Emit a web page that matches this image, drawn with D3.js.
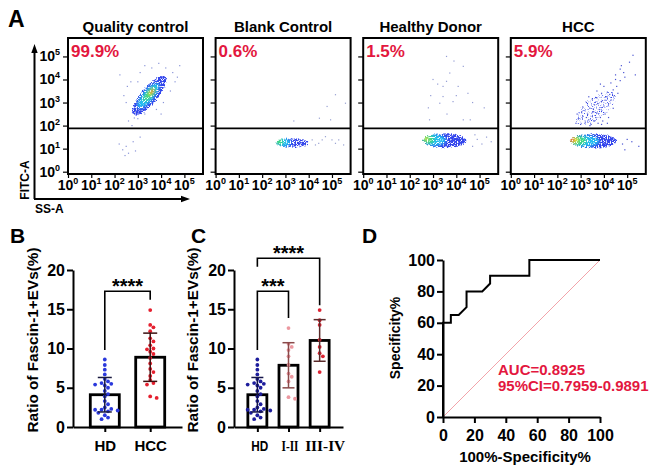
<!DOCTYPE html>
<html>
<head>
<meta charset="utf-8">
<script src="https://cdn.jsdelivr.net/npm/d3@7"></script>
<style>
body{margin:0;background:#fff;}
svg{display:block;font-family:Arial,"Liberation Sans",sans-serif;font-weight:bold;}
</style>
</head>
<body>
<svg id="fig" width="652" height="474"></svg>
<script>
'use strict';

// ---- panel A : flow cytometry ----
var flowTitles=['Quality control','Blank Control','Healthy Donor','HCC'];
var flowPercents=['99.9%','0.6%','1.5%','5.9%'];
var logTicks=[0,1,2,3,4,5];
var gateLog=1.88;
var levelColors=['#3345ec','#22bdf0','#40d984','#e6e33c','#ea522c'];

// density layers: [log SS-A, log FITC-A, half length, half width (decades), angle, level, opacity]
var qcDensity=[
    [3.5,3.3,1.12,0.4,-50,0,1],
    [3.45,3.3,0.68,0.25,-50,1,1],
    [3.5,3.36,0.38,0.15,-50,2,1],
    [3.58,3.45,0.18,0.09,-50,3,1],
    [3.62,3.48,0.08,0.05,-50,4,1]
];
var blankDensity=[
    [3.3,1.25,0.75,0.26,0,0,0.9],
    [2.9,1.27,0.33,0.19,0,1,1],
    [2.75,1.3,0.16,0.13,0,2,1]
];
var hdDensity=[
    [3.5,1.35,0.98,0.35,0,0,1],
    [3.05,1.37,0.5,0.26,0,1,1],
    [2.8,1.4,0.25,0.19,0,2,1],
    [2.72,1.42,0.1,0.08,0,3,1]
];
var hccDensity=[
    [3.65,2.75,1.1,0.55,-38,0,0.62],
    [3.55,1.33,1.05,0.35,0,0,1],
    [3.15,1.33,0.65,0.26,0,1,1],
    [2.88,1.35,0.38,0.2,0,2,1],
    [2.72,1.37,0.2,0.14,0,3,1],
    [2.62,1.38,0.1,0.09,0,4,1]
];

// sparse events: [log SS-A, log FITC-A]
var qcEvents=[[2.2,1.2],[2.35,0.95],[2.5,1.1],[2.6,0.8],[2.8,1.3],[2.45,0.7],[3.1,1.5],[2.9,0.9],
    [2.6,2.2],[2.75,2.0],[2.9,2.6],[3.0,2.3],[2.5,3.0],[2.55,3.7],[2.7,3.9],[3.1,4.3],[3.3,4.6],
    [3.6,4.5],[3.9,4.7],[4.2,4.5],[4.5,4.3],[4.6,3.9],[4.4,3.5],[4.1,3.0],[3.8,2.7],[3.3,2.5],
    [4.7,4.1],[4.8,4.6],[2.4,3.3],[3.0,3.9],[4.0,2.5],[2.23,4.2],[2.85,2.33]];
var blankEvents=[[5.15,3.34],[4.79,2.83],[4.46,2.32],[3.36,2.2],[5.58,2.97],[4.94,2.25],
    [4.72,1.52],[5.0,1.38],[5.29,1.38],[5.5,1.16],[4.43,1.23],[4.15,1.38],[4.29,1.16],[3.86,1.12],
    [4.58,1.38],[5.15,1.23]];
var hdEvents=[[3.58,5.0],[3.72,4.28],[3.58,3.92],[3.43,3.7],[4.3,4.57],[4.5,3.4],[3.86,3.04],
    [3.0,4.0],[2.8,2.77],[2.85,2.25],[4.3,2.25],[5.2,2.77],[4.6,2.25],[3.43,3.26],[4.08,3.7],
    [3.29,2.97],[3.9,4.8],[4.0,3.3],[2.9,3.3],[3.6,2.5],[4.7,3.0],[3.2,3.8],
    [4.9,1.4],[5.1,1.2],[5.5,1.3],[4.7,1.1],[4.8,1.6],[5.3,1.5]];
var hccEvents=[[2.8,2.1],[2.9,2.3],[3.0,2.05],[3.1,2.4],[3.2,2.15],[3.3,2.5],[3.35,2.25],[3.45,2.05],
    [3.5,2.4],[3.6,2.2],[3.7,2.55],[3.75,2.1],[3.85,2.35],[3.95,2.2],[4.05,2.5],[4.15,2.1],
    [2.85,2.5],[3.05,2.6],[3.4,2.0],[3.65,2.35],[3.9,2.05],[4.2,2.35],[3.25,2.35],[3.55,2.6],
    [3.1,2.8],[3.25,3.0],[3.4,2.75],[3.5,3.15],[3.6,2.9],[3.7,3.2],[3.8,2.7],[3.9,3.05],
    [4.0,2.85],[4.1,3.25],[4.2,2.95],[4.3,3.1],[4.4,2.75],[3.35,3.25],[3.75,2.95],[4.05,3.1],
    [4.45,3.3],[3.55,2.7],[3.7,3.5],[3.9,3.4],[4.0,3.7],[4.15,3.45],[4.3,3.85],[4.4,3.55],
    [4.55,3.7],[4.7,3.95],[4.25,3.35],[4.6,3.4],[3.85,3.8],[4.5,4.0],[4.5,4.2],[4.7,4.45],
    [4.85,4.3],[4.75,4.6],[4.9,4.1],[5.25,5.05],[5.35,4.2],[5.1,4.75],
    [4.8,1.2],[5.0,1.4],[5.2,1.3],[5.5,1.1],[4.9,0.95]];

var flowDensity=[qcDensity,blankDensity,hdDensity,hccDensity];
var flowEvents=[qcEvents,blankEvents,hdEvents,hccEvents];
var eventColors=['#8a95d8','#98a1d2','#949dd4','#4853d2'];

// ---- panel B / C : Fascin-1+ EVs ----
var groupsB=['HD','HCC'];
var groupsC=['HD','I-II','III-IV'];
var ratioTicks=[0,5,10,15,20];
var hdValues=[8.6,7.9,7.3,6.7,6.1,5.8,5.6,5.5,5.4,5.3,5.0,4.6,4.2,3.9,3.3,2.9,2.5,2.3,2.2,2.2,2.1,2.0,1.8,1.5,1.2,1.0];
var hccValues=[14.9,13.0,12.7,12.2,11.3,10.9,10.4,10.0,9.9,9.6,9.3,8.8,8.1,7.4,7.0,6.5,6.0,5.6,5.4,3.9,3.7];
var stageIValues=[12.6,10.6,10.2,9.8,9.0,7.9,6.8,6.4,5.8,3.8,3.6];
var stageIIIValues=[14.9,13.6,13.0,11.1,10.2,9.4,9.0,7.0];
var sigB=[{a:'HD',b:'HCC',top:17.3,endA:9.8,endB:16.2,label:'****'}];
var sigC=[{a:'HD',b:'I-II',top:17.3,endA:9.8,endB:13.9,label:'***'},
          {a:'HD',b:'III-IV',top:21.5,endA:20.4,endB:15.5,label:'****'}];

// ---- panel D : ROC ----
var rocX=[0,0,5,5,10,15,15,25,30,30,55,55,100];
var rocY=[0,60,60,65,65,70,80,80,85,90,90,100,100];
var rocTicks=[0,20,40,60,80,100];
var rocTicksY=[0,20,40,60,80,100];

var svg=d3.select('#fig');
var defs=svg.append('defs');
var red='#e3173e';
var sans='Arial,"Liberation Sans",sans-serif';
var serif='"Liberation Serif","Times New Roman",serif';

// speckle filter gives the dotted look of dense flow events
var f=defs.append('filter').attr('id','speckle')
    .attr('x','-30%').attr('y','-30%').attr('width','160%').attr('height','160%')
    .attr('color-interpolation-filters','sRGB');
f.append('feGaussianBlur').attr('in','SourceGraphic').attr('stdDeviation',1.6).attr('result','b');
f.append('feTurbulence').attr('type','fractalNoise').attr('baseFrequency',0.8)
    .attr('numOctaves',2).attr('seed',4).attr('result','t');
f.append('feColorMatrix').attr('in','t').attr('type','matrix')
    .attr('values','0 0 0 0 0  0 0 0 0 0  0 0 0 0 0  1 0 0 0 0').attr('result','n');
f.append('feComposite').attr('in','b').attr('in2','n').attr('operator','in').attr('result','bn');
f.append('feComponentTransfer').attr('in','bn')
    .append('feFuncA').attr('type','linear').attr('slope',7).attr('intercept',-2.3);

function powLabel(sel){
    sel.text('10').append('tspan').attr('dy',-6).attr('font-size',9).text(function(d){return d;});
}

svg.append('text').attr('x',8).attr('y',27).attr('font-size',23).text('A');

flowTitles.forEach(function(title,i){
    var left=68+i*147.6
      , x=d3.scaleLinear().domain([0,5.8]).range([left,left+135])
      , y=d3.scaleLinear().domain([-0.1,5.8]).range([174,38])
      , g=svg.append('g');

    defs.append('clipPath').attr('id','clip'+i).append('rect')
        .attr('x',x(0)).attr('y',y(5.8))
        .attr('width',x(5.8)-x(0)).attr('height',y(-0.1)-y(5.8));

    var plot=g.append('g').attr('clip-path','url(#clip'+i+')');
    plot.append('g').attr('filter','url(#speckle)')
        .selectAll('ellipse').data(flowDensity[i]).join('ellipse')
        .attr('cx',function(d){return x(d[0]);})
        .attr('cy',function(d){return y(d[1]);})
        .attr('rx',function(d){return x(d[2])-x(0);})
        .attr('ry',function(d){return y(0)-y(d[3]);})
        .attr('transform',function(d){return 'rotate('+d[4]+','+x(d[0])+','+y(d[1])+')';})
        .attr('fill',function(d){return levelColors[d[5]];})
        .attr('fill-opacity',function(d){return d[6];});
    plot.append('g').selectAll('rect').data(flowEvents[i]).join('rect')
        .attr('x',function(d){return x(d[0])-0.6;})
        .attr('y',function(d){return y(d[1])-0.6;})
        .attr('width',1.2).attr('height',1.2)
        .attr('fill',eventColors[i]);

    g.append('line')
        .attr('x1',x(0)).attr('x2',x(5.8))
        .attr('y1',y(gateLog)).attr('y2',y(gateLog))
        .attr('stroke','#000').attr('stroke-width',1.8);
    g.append('rect')
        .attr('x',x(0)).attr('y',y(5.8))
        .attr('width',x(5.8)-x(0)).attr('height',y(-0.1)-y(5.8))
        .attr('fill','none').attr('stroke','#000').attr('stroke-width',2);

    var ya=g.append('g').attr('transform','translate('+x(0)+',0)')
        .call(d3.axisLeft(y).tickValues(logTicks).tickSize(5).tickFormat(''));
    ya.select('.domain').remove();
    ya.selectAll('line').attr('stroke-width',1.2);
    var xa=g.append('g').attr('transform','translate(0,'+y(-0.1)+')')
        .call(d3.axisBottom(x).tickValues(logTicks).tickSize(4).tickFormat(''));
    xa.select('.domain').remove();
    xa.selectAll('line').attr('stroke-width',1.2);

    g.selectAll('text.xl').data(logTicks).join('text').attr('class','xl')
        .attr('x',function(d){return x(d);}).attr('y',190)
        .attr('text-anchor','middle').attr('font-size',14)
        .call(powLabel);
    if(i==0){
        g.selectAll('text.yl').data(logTicks).join('text').attr('class','yl')
            .attr('x',x(0)-8).attr('y',function(d){return y(d)+5;})
            .attr('text-anchor','end').attr('font-size',14)
            .call(powLabel);
    }

    g.append('text').attr('x',(x(0)+x(5.8))/2).attr('y',32)
        .attr('text-anchor','middle').attr('font-size',15).text(title);
    g.append('text').attr('x',x(0)+3).attr('y',57)
        .attr('font-size',17).attr('fill',red).text(flowPercents[i]);
});

// axis arrows of panel A
svg.append('line').attr('x1',34.5).attr('y1',199).attr('x2',34.5).attr('y2',50)
    .attr('stroke','#000').attr('stroke-width',2);
svg.append('path').attr('d','M34.5,44L31.3,53L37.7,53Z').attr('fill','#000');
svg.append('line').attr('x1',34).attr('y1',199).attr('x2',184).attr('y2',199)
    .attr('stroke','#000').attr('stroke-width',2);
svg.append('path').attr('d','M190,199L181,195.8L181,202.2Z').attr('fill','#000');
svg.append('text').attr('transform','translate(29,180) rotate(-90)')
    .attr('text-anchor','middle').attr('font-size',12).text('FITC-A');
svg.append('text').attr('x',35).attr('y',213).attr('font-size',12).text('SS-A');

// ---- dot + bar charts ----
function swarm(values,cx,y,r){
    var placed=[];
    return values.map(function(v){
        var py=y(v), off=0, cands=[0];
        for(var j=1;j<6;j++){cands.push(j*r*1.7,-j*r*1.7);}
        for(var c=0;c<cands.length;c++){
            var ok=placed.every(function(p){return Math.hypot(p[0]-(cx+cands[c]),p[1]-py)>=r*1.9;});
            if(ok){off=cands[c];break;}
        }
        placed.push([cx+off,py]);
        return [cx+off,py];
    });
}

function dotBar(o){
    var y=d3.scaleLinear().domain([0,20]).range([427,270])
      , x=d3.scalePoint().domain(o.cats).range(o.range).padding(o.pad)
      , g=svg.append('g');

    o.series.forEach(function(vals,k){
        var cx=x(o.cats[k]), m=d3.mean(vals), sd=d3.deviation(vals);
        g.append('rect')
            .attr('x',cx-o.bw/2).attr('y',y(m))
            .attr('width',o.bw).attr('height',y(0)-y(m))
            .attr('fill','#fff').attr('stroke','#000').attr('stroke-width',2.8);
        g.append('g').selectAll('circle').data(swarm(vals,cx,y,1.9)).join('circle')
            .attr('cx',function(d){return d[0];}).attr('cy',function(d){return d[1];})
            .attr('r',1.9).attr('fill',o.colors[k]);
        var eb=g.append('g').attr('stroke',o.barColors[k]).attr('stroke-width',1.5);
        eb.append('line').attr('x1',cx).attr('x2',cx).attr('y1',y(m-sd)).attr('y2',y(m+sd));
        eb.append('line').attr('x1',cx-o.cap).attr('x2',cx+o.cap).attr('y1',y(m+sd)).attr('y2',y(m+sd));
        eb.append('line').attr('x1',cx-o.cap).attr('x2',cx+o.cap).attr('y1',y(m-sd)).attr('y2',y(m-sd));
    });

    o.sig.forEach(function(s){
        var xa=x(s.a), xb=x(s.b);
        g.append('path')
            .attr('d','M'+xa+','+y(s.endA)+'V'+y(s.top)+'H'+xb+'V'+y(s.endB))
            .attr('fill','none').attr('stroke','#000').attr('stroke-width',1.6);
        g.append('text').attr('x',(xa+xb)/2).attr('y',y(s.top)+2)
            .attr('text-anchor','middle').attr('font-size',20).text(s.label);
    });

    var ya=g.append('g').attr('transform','translate('+o.range[0]+',0)')
        .call(d3.axisLeft(y).tickValues(ratioTicks).tickSize(6).tickSizeOuter(0).tickPadding(2));
    var xa=g.append('g').attr('transform','translate(0,'+y(0)+')')
        .call(d3.axisBottom(x).tickSize(5).tickSizeOuter(0).tickPadding(8));
    g.selectAll('.domain,.tick line').attr('stroke','#000').attr('stroke-width',2);
    ya.selectAll('text').attr('font-size',16).attr('font-weight','bold')
        .attr('font-family',sans).attr('fill','#000');
    xa.selectAll('text').attr('font-size',15).attr('font-weight','bold').attr('fill','#000')
        .attr('font-family',function(d,i){return o.catFonts[i];})
        .attr('dx',function(d,i){return o.catShift[i];})
        .each(function(d,i){
            if(o.catLen[i]) d3.select(this).attr('textLength',o.catLen[i]).attr('lengthAdjust','spacingAndGlyphs');
        });

    svg.append('text').attr('transform','translate('+o.labelX+',340) rotate(-90)')
        .attr('text-anchor','middle').attr('dy','0.35em').attr('font-size',15)
        .attr('textLength',185).attr('lengthAdjust','spacingAndGlyphs')
        .text('Ratio of Fascin-1+EVs(%)');
}

svg.append('text').attr('x',10).attr('y',243).attr('font-size',21).text('B');
dotBar({
    cats:groupsB, series:[hdValues,hccValues], range:[73,182], pad:0.7, bw:29, cap:7,
    colors:['#2a38dc','#e5202f'], barColors:['#1a1a40','#3a1010'],
    sig:sigB, labelX:33, catFonts:[sans,sans], catShift:[0,0], catLen:[0,0]
});

svg.append('text').attr('x',191).attr('y',243).attr('font-size',21).text('C');
dotBar({
    cats:groupsC, series:[hdValues,stageIValues,stageIIIValues], range:[234,343], pad:0.75, bw:19, cap:6,
    colors:['#1d1d9c','#ec98a0','#dc2433'], barColors:['#14144a','#8a4a4a','#5a2a2a'],
    sig:sigC, labelX:193, catFonts:[sans,serif,serif], catShift:[2,1,5], catLen:[17,17,40]
});

// ---- ROC ----
svg.append('text').attr('x',362).attr('y',243).attr('font-size',21).text('D');
(function(){
    var x=d3.scaleLinear().domain([0,100]).range([443,600])
      , y=d3.scaleLinear().domain([0,100]).range([417,260])
      , g=svg.append('g');

    g.append('line').attr('x1',x(0)).attr('y1',y(0)).attr('x2',x(100)).attr('y2',y(100))
        .attr('stroke','#f2a3aa').attr('stroke-width',1);
    g.append('path').datum(d3.range(rocX.length))
        .attr('d',d3.line().x(function(i){return x(rocX[i]);}).y(function(i){return y(rocY[i]);}))
        .attr('fill','none').attr('stroke','#000').attr('stroke-width',2);

    var xa=g.append('g').attr('transform','translate(0,'+y(0)+')')
        .call(d3.axisBottom(x).tickValues(rocTicks).tickSize(6).tickSizeOuter(0).tickPadding(7));
    var ya=g.append('g').attr('transform','translate('+x(0)+',0)')
        .call(d3.axisLeft(y).tickValues(rocTicksY).tickSize(6).tickSizeOuter(0).tickPadding(2));
    g.selectAll('.domain,.tick line').attr('stroke','#000').attr('stroke-width',2);
    g.selectAll('.tick text').attr('font-size',16).attr('font-weight','bold')
        .attr('font-family',sans).attr('fill','#000');

    g.append('text').attr('x',525).attr('y',462).attr('text-anchor','middle')
        .attr('font-size',15).text('100%-Specificity%');
    g.append('text').attr('transform','translate(395,338) rotate(-90)')
        .attr('text-anchor','middle').attr('dy','0.35em').attr('font-size',14).text('Specificity%');
    g.append('text').attr('x',498).attr('y',375).attr('font-size',15).attr('fill',red).text('AUC=0.8925');
    g.append('text').attr('x',498).attr('y',391).attr('font-size',15).attr('fill',red).text('95%CI=0.7959-0.9891');
})();
</script>
</body>
</html>
